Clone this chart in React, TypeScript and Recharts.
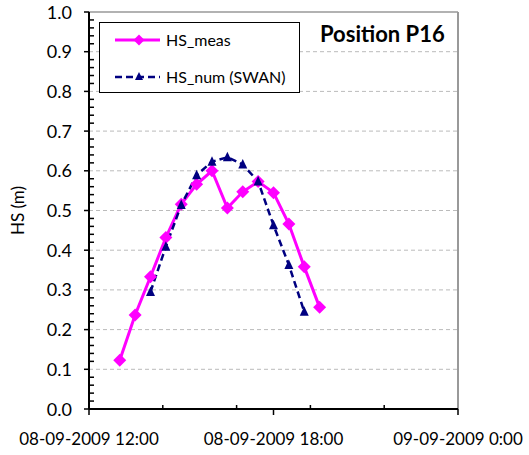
import {
  LineChart,
  Line,
  XAxis,
  YAxis,
  ReferenceLine,
  Legend,
} from "recharts";

// measurement / model times on 08-09-2009
const times = [
  "13:00", "13:30", "14:00", "14:30", "15:00", "15:30", "16:00",
  "16:30", "17:00", "17:30", "18:00", "18:30", "19:00", "19:30",
];
const hsMeas = [
  0.123, 0.237, 0.333, 0.432, 0.516, 0.566, 0.6,
  0.506, 0.547, 0.573, 0.545, 0.466, 0.358, 0.256,
];
const hsNum = [
  null, null, 0.295, 0.409, 0.514, 0.589, 0.623,
  0.634, 0.616, 0.573, 0.463, 0.363, 0.245, null,
];

// x axis in hours after 08-09-2009 12:00
const xMajorTicks = [0, 6, 12];
const xMajorLabels = ["08-09-2009 12:00", "08-09-2009 18:00", "09-09-2009 0:00"];
const xMinorTicks = [2.4, 4.8, 7.2, 9.6];
const yMajorTicks = [0, 0.1, 0.2, 0.3, 0.4, 0.5, 0.6, 0.7, 0.8, 0.9, 1.0];
const gridLines = [0.1, 0.2, 0.3, 0.4, 0.5, 0.6, 0.7, 0.8, 0.9];

const yTicks = Array.from({ length: 51 }, (_, i) => +(i * 0.02).toFixed(2));
const xTicks = [...xMajorTicks, ...xMinorTicks].sort((a, b) => a - b);

const toHours = (t: string) => {
  const [h, m] = t.split(":").map(Number);
  return h - 12 + m / 60;
};

const data = times.map((t, i) => ({
  t: toHours(t),
  meas: hsMeas[i],
  num: hsNum[i],
}));

const FONT = "Lato, sans-serif";
const MAGENTA = "#ff00ff";
const NAVY = "#000080";

const XTick = (props: any) => {
  const { x, y, payload } = props;
  const idx = xMajorTicks.indexOf(payload.value);
  if (idx < 0) {
    return <line x1={x} x2={x} y1={y} y2={y - 4} stroke="#000" strokeWidth={1.5} />;
  }
  return (
    <g>
      <line x1={x} x2={x} y1={y} y2={y + 6} stroke="#000" strokeWidth={1.5} />
      <text x={x} y={y + 36} textAnchor="middle" fontFamily={FONT} fontSize={17} fill="#000">
        {xMajorLabels[idx]}
      </text>
    </g>
  );
};

const YTick = (props: any) => {
  const { x, y, payload } = props;
  const v = payload.value;
  const major = yMajorTicks.some((m) => Math.abs(m - v) < 1e-6);
  if (!major) {
    return <line x1={x} x2={x + 5} y1={y} y2={y} stroke="#000" strokeWidth={1.5} />;
  }
  return (
    <g>
      <line x1={x - 5} x2={x} y1={y} y2={y} stroke="#000" strokeWidth={1.5} />
      <text x={x - 17} y={y + 6.5} textAnchor="end" fontFamily={FONT} fontSize={18} fill="#000">
        {v.toFixed(1)}
      </text>
    </g>
  );
};

const YLabel = (props: any) => {
  const { viewBox } = props;
  const cx = 17;
  const cy = viewBox.y + viewBox.height / 2;
  return (
    <text
      x={cx}
      y={cy}
      transform={`rotate(-90 ${cx} ${cy})`}
      textAnchor="middle"
      dominantBaseline="central"
      fontFamily={FONT}
      fontSize={17}
      fill="#000"
    >
      HS (m)
    </text>
  );
};

const Diamond = (props: any) => {
  const { cx, cy, index } = props;
  if (cx == null || cy == null) return <g key={index} />;
  const r = 6.5;
  return (
    <path
      key={index}
      d={`M${cx},${cy - r}L${cx + r},${cy}L${cx},${cy + r}L${cx - r},${cy}Z`}
      fill={MAGENTA}
    />
  );
};

const Triangle = (props: any) => {
  const { cx, cy, index } = props;
  if (cx == null || cy == null) return <g key={index} />;
  return (
    <path
      key={index}
      d={`M${cx},${cy - 5.5}L${cx + 4.5},${cy + 4}L${cx - 4.5},${cy + 4}Z`}
      fill={NAVY}
    />
  );
};

const LegendBox = () => (
  <div
    style={{
      width: 201,
      height: 71,
      boxSizing: "border-box",
      border: "1.5px solid #000",
      background: "#fff",
      fontFamily: FONT,
      fontSize: 16,
      position: "relative",
    }}
  >
    <svg width={60} height={71} style={{ position: "absolute", left: 0, top: 0 }}>
      <line x1={15} x2={62} y1={17} y2={17} stroke={MAGENTA} strokeWidth={3} />
      <path d="M39,11.5L44.5,17L39,22.5L33.5,17Z" fill={MAGENTA} />
      <line x1={15} x2={62} y1={54} y2={54} stroke={NAVY} strokeWidth={2.5} strokeDasharray="7 4" />
      <path d="M39,49L43,57L35,57Z" fill={NAVY} />
    </svg>
    <div style={{ position: "absolute", left: 66, top: 7 }}>HS_meas</div>
    <div style={{ position: "absolute", left: 66, top: 44 }}>HS_num (SWAN)</div>
  </div>
);

export default function App() {
  return (
    <div style={{ position: "absolute", left: 0, top: 0, width: 529, height: 455, background: "#fff" }}>
      <LineChart
        width={529}
        height={455}
        data={data}
        margin={{ top: 12, right: 71, bottom: 0, left: 0 }}
      >
        {gridLines.map((g) => (
          <ReferenceLine key={g} y={g} stroke="#bbbbbb" strokeDasharray="4 3" strokeWidth={1} />
        ))}
        <ReferenceLine y={1} stroke="#999999" strokeWidth={1.5} />
        <ReferenceLine x={12} stroke="#999999" strokeWidth={2} />
        <XAxis
          dataKey="t"
          type="number"
          domain={[0, 12]}
          ticks={xTicks}
          interval={0}
          height={46}
          tickSize={0}
          tickMargin={0}
          tickLine={false}
          axisLine={{ stroke: "#000", strokeWidth: 2 }}
          tick={<XTick />}
        />
        <YAxis
          type="number"
          domain={[0, 1]}
          ticks={yTicks}
          interval={0}
          width={89}
          tickSize={0}
          tickMargin={0}
          tickLine={false}
          axisLine={{ stroke: "#000", strokeWidth: 2 }}
          tick={<YTick />}
          label={<YLabel />}
        />
        <Legend
          layout="horizontal"
          verticalAlign="middle"
          align="center"
          wrapperStyle={{ left: 99, top: 22, width: 201, height: 71 }}
          content={<LegendBox />}
        />
        <Line
          dataKey="meas"
          stroke={MAGENTA}
          strokeWidth={3}
          dot={<Diamond />}
          activeDot={false}
          isAnimationActive={false}
        />
        <Line
          dataKey="num"
          stroke={NAVY}
          strokeWidth={2.5}
          strokeDasharray="7 4"
          dot={<Triangle />}
          activeDot={false}
          isAnimationActive={false}
        />
      </LineChart>
      <div
        style={{
          position: "absolute",
          left: 320,
          top: 21,
          fontFamily: FONT,
          fontWeight: 700,
          fontSize: 22,
          lineHeight: "26px",
          color: "#000",
        }}
      >
        Position P16
      </div>
    </div>
  );
}
